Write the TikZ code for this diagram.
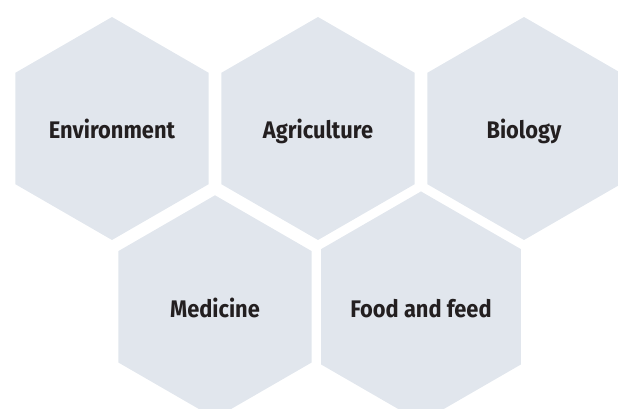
\documentclass[tikz,border=0pt]{standalone}
\usepackage{fontspec}
\setmainfont{Fira Sans}[FakeStretch=0.91]
\usetikzlibrary{shapes.geometric}
\definecolor{hexfill}{RGB}{225,230,237}
\definecolor{txtcol}{RGB}{35,31,32}
\tikzset{
  hexcell/.style={regular polygon, regular polygon sides=6, shape border rotate=30,
    minimum size=223pt, inner sep=0pt, fill=hexfill, draw=none,
    text=txtcol, font=\bfseries\fontsize{24}{27}\selectfont,
    text height=21pt, text depth=0pt}
}
\begin{document}
\begin{tikzpicture}[x=1pt,y=-1pt]
\useasboundingbox (0,0) rectangle (618,409);
\begin{scope}
\clip (0,0) rectangle (618,409);
\node[hexcell] (env) at (112,128.5) {Environment};
\node[hexcell] (agr) at (318,128.5) {Agriculture};
\node[hexcell] (bio) at (524,128.5) {Biology};
\node[hexcell] (med) at (215,306.8) {Medicine};
\node[hexcell] (food) at (421,306.8) {Food and feed};
\end{scope}
\end{tikzpicture}
\end{document}
